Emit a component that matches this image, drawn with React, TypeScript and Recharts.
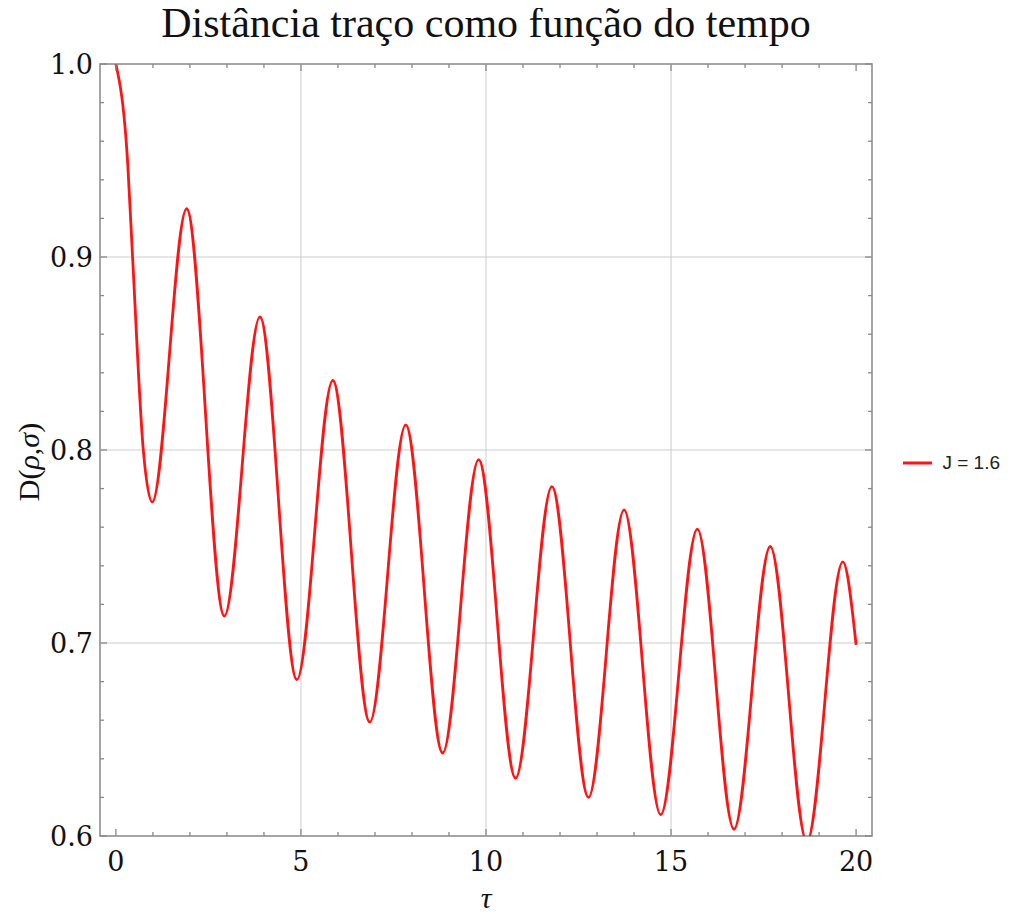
import React from 'react';
import { LineChart, Line, XAxis, YAxis, ReferenceLine, ReferenceArea, Legend } from 'recharts';

// ---- data ----
const TAU = [0, 0.32, 0.45, 0.74, 0.98, 1.91, 2.93, 3.89, 4.89, 5.86, 6.86, 7.83, 8.83, 9.8, 10.8, 11.78, 12.77, 13.73, 14.72, 15.71, 16.7, 17.68, 18.67, 19.64, 20.0];
const DIST = [1.0, 0.948, 0.9, 0.8, 0.773, 0.925, 0.714, 0.869, 0.681, 0.836, 0.659, 0.813, 0.643, 0.795, 0.63, 0.781, 0.62, 0.769, 0.611, 0.759, 0.6035, 0.75, 0.597, 0.742, 0.699];
const SERIES_NAME = 'J = 1.6';

const X_MAJOR = [0, 5, 10, 15, 20];
const X_MINOR = [1, 2, 3, 4, 6, 7, 8, 9, 11, 12, 13, 14, 16, 17, 18, 19];
const Y_MAJOR = [0.6, 0.7, 0.8, 0.9, 1.0];
const Y_MINOR = [0.62, 0.64, 0.66, 0.68, 0.72, 0.74, 0.76, 0.78, 0.82, 0.84, 0.86, 0.88, 0.92, 0.94, 0.96, 0.98];
const X_GRID = [5, 10, 15];
const Y_GRID = [0.7, 0.8, 0.9];
const X_DOMAIN: [number, number] = [-0.43, 20.43];
const Y_DOMAIN: [number, number] = [0.6, 1.0];

const TITLE = 'Distância traço como função do tempo';

// ---- layout / style ----
const W = 1010;
const H = 910;
const MARGIN = { top: 56, right: 18, bottom: 32, left: 12 };
const YAXIS_W = 80;
const XAXIS_H = 50;
const LEGEND_W = 128;
const PLOT_LEFT = MARGIN.left + YAXIS_W;
const PLOT_TOP = MARGIN.top;
const PLOT_RIGHT = W - MARGIN.right - LEGEND_W;
const PLOT_BOTTOM = H - MARGIN.bottom - XAXIS_H;

const RED = '#ff1414';
const FRAME = '#888888';
const GRID = '#cdcdcd';
const TEXT = '#111111';
const TICK_FONT = '"DejaVu Serif", serif';
const SERIF = '"Liberation Serif", "Times New Roman", serif';

const data = TAU.map((t, i) => ({ tau: t, d: DIST[i] }));

const isIn = (arr: number[], v: number) => arr.some((a) => Math.abs(a - v) < 1e-9);

const XTick = (props: any) => {
  const { x, payload } = props;
  const v = payload.value;
  const major = isIn(X_MAJOR, v);
  const len = major ? 7 : 4;
  return (
    <g>
      <line x1={x} x2={x} y1={PLOT_BOTTOM} y2={PLOT_BOTTOM - len} stroke={FRAME} strokeWidth={1.3} />
      <line x1={x} x2={x} y1={PLOT_TOP} y2={PLOT_TOP + len} stroke={FRAME} strokeWidth={1.3} />
      {major && (
        <text x={x} y={PLOT_BOTTOM + 35} textAnchor="middle" fontFamily={TICK_FONT} fontSize={27} fill={TEXT}>
          {String(v)}
        </text>
      )}
    </g>
  );
};

const YTick = (props: any) => {
  const { y, payload } = props;
  const v = payload.value;
  const major = isIn(Y_MAJOR, v);
  const len = major ? 7 : 4;
  return (
    <g>
      <line x1={PLOT_LEFT} x2={PLOT_LEFT + len} y1={y} y2={y} stroke={FRAME} strokeWidth={1.3} />
      <line x1={PLOT_RIGHT} x2={PLOT_RIGHT - len} y1={y} y2={y} stroke={FRAME} strokeWidth={1.3} />
      {major && (
        <text x={PLOT_LEFT - 7} y={y + 10} textAnchor="end" fontFamily={TICK_FONT} fontSize={27} fill={TEXT}>
          {v.toFixed(1)}
        </text>
      )}
    </g>
  );
};

const LegendContent = () => (
  <div style={{ display: 'flex', alignItems: 'center', width: LEGEND_W, height: 24 }}>
    <svg width={61} height={24} style={{ display: 'block' }}>
      <line x1={31} x2={61} y1={12} y2={12} stroke={RED} strokeWidth={3} />
    </svg>
    <span
      style={{
        marginLeft: 10,
        fontFamily: '"Liberation Sans", Arial, sans-serif',
        fontSize: 19,
        color: '#222',
        whiteSpace: 'nowrap',
      }}
    >
      {SERIES_NAME}
    </span>
  </div>
);

const OVERLAY_SHIFT = 8;

export default function App() {
  const xTicks = [...X_MAJOR, ...X_MINOR].sort((a, b) => a - b);
  const yTicks = [...Y_MAJOR, ...Y_MINOR].sort((a, b) => a - b);
  return (
    <div style={{ position: 'relative', width: W, height: H }}>
      <LineChart width={W} height={H} data={data} margin={MARGIN}>
        {X_GRID.map((g) => (
          <ReferenceLine key={'gx' + g} x={g} stroke={GRID} strokeWidth={1} />
        ))}
        {Y_GRID.map((g) => (
          <ReferenceLine key={'gy' + g} y={g} stroke={GRID} strokeWidth={1} />
        ))}
        <XAxis
          dataKey="tau"
          type="number"
          domain={X_DOMAIN}
          allowDataOverflow
          ticks={xTicks}
          interval={0}
          tick={<XTick />}
          tickLine={false}
          axisLine={false}
          height={XAXIS_H}
        />
        <YAxis
          type="number"
          domain={Y_DOMAIN}
          allowDataOverflow
          ticks={yTicks}
          interval={0}
          tick={<YTick />}
          tickLine={false}
          axisLine={false}
          width={YAXIS_W}
        />
        <ReferenceArea
          x1={X_DOMAIN[0]}
          x2={X_DOMAIN[1]}
          y1={Y_DOMAIN[0]}
          y2={Y_DOMAIN[1]}
          fill="none"
          fillOpacity={0}
          stroke={FRAME}
          strokeWidth={1.5}
          ifOverflow="visible"
        />
        <Line
          type="monotone"
          dataKey="d"
          name={SERIES_NAME}
          stroke={RED}
          strokeWidth={2.8}
          dot={false}
          activeDot={false}
          isAnimationActive={false}
        />
        <Legend
          layout="vertical"
          align="right"
          verticalAlign="middle"
          width={LEGEND_W}
          content={<LegendContent />}
          wrapperStyle={{ width: LEGEND_W }}
        />
      </LineChart>
      <svg
        width={W}
        height={H + OVERLAY_SHIFT}
        style={{ position: 'absolute', left: 0, top: -OVERLAY_SHIFT, pointerEvents: 'none', overflow: 'visible' }}
      >
        <text
          x={(PLOT_LEFT + PLOT_RIGHT) / 2}
          y={29 + OVERLAY_SHIFT}
          textAnchor="middle"
          fontFamily={SERIF}
          fontSize={42}
          fill={TEXT}
        >
          {TITLE}
        </text>
        <text
          transform={`translate(31, ${(PLOT_TOP + PLOT_BOTTOM) / 2 + 12 + OVERLAY_SHIFT}) rotate(-90)`}
          textAnchor="middle"
          fontFamily={SERIF}
          fontSize={30}
          fill={TEXT}
        >
          D(<tspan fontStyle="italic">ρ</tspan>,<tspan fontStyle="italic">σ</tspan>)
        </text>
        <text
          x={(PLOT_LEFT + PLOT_RIGHT) / 2}
          y={PLOT_BOTTOM + 72 + OVERLAY_SHIFT}
          textAnchor="middle"
          fontFamily={SERIF}
          fontStyle="italic"
          fontSize={30}
          fill={TEXT}
        >
          τ
        </text>
      </svg>
    </div>
  );
}
